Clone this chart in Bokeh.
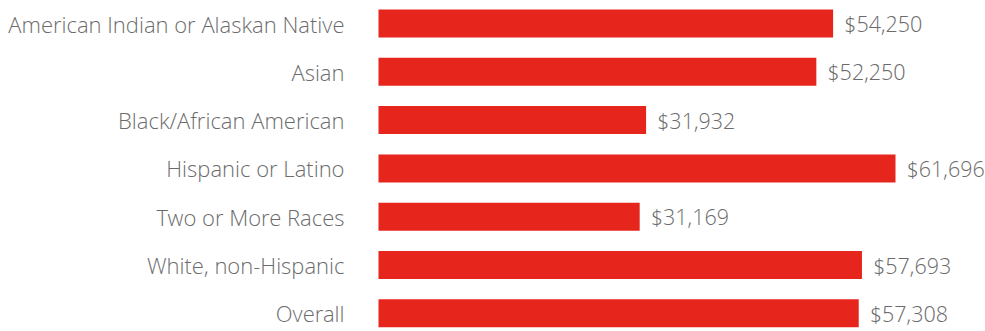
from bokeh.plotting import figure
from bokeh.models import ColumnDataSource, Range1d
from bokeh.core.properties import value
from bokeh.embed import file_html
from bokeh.resources import INLINE

categories = ["American Indian or Alaskan Native", "Asian", "Black/African American",
              "Hispanic or Latino", "Two or More Races", "White, non-Hispanic", "Overall"]
incomes = [54250, 52250, 31932, 61696, 31169, 57693, 57308]
value_labels = ["$54,250", "$52,250", "$31,932", "$61,696", "$31,169", "$57,693", "$57,308"]

pos = list(range(len(categories)))
src = ColumnDataSource(dict(y=pos, cat=categories, v=incomes, lab=value_labels,
                            zero=[0] * len(pos)))

W, H = 985, 331
px_per_dollar = 517 / 61696.0
zero_px = 378
row_px = 48.3
first_px = 23

p = figure(width=W, height=H, output_backend="svg", toolbar_location=None,
           x_range=Range1d(-zero_px / px_per_dollar, (W - zero_px) / px_per_dollar),
           y_range=Range1d((H - first_px) / row_px, -first_px / row_px),
           min_border=0, outline_line_color=None)
p.axis.visible = False
p.grid.visible = False
p.background_fill_color = "white"
p.border_fill_color = "white"

p.hbar(y="y", left=0, right="v", height=28 / row_px, source=src,
       fill_color="#E6251C", line_color=None)

font = value("'Open Sans Light', 'Open Sans'")
p.text(x="zero", y="y", text="cat", source=src, x_offset=-34,
       text_align="right", text_baseline="middle", text_font=font,
       text_font_size="22px", text_color="#6b6b6b")
p.text(x="v", y="y", text="lab", source=src, x_offset=11,
       text_align="left", text_baseline="middle", text_font=font,
       text_font_size="21.5px", text_color="#6b6b6b")

open("out.html", "w").write(file_html(p, INLINE))
